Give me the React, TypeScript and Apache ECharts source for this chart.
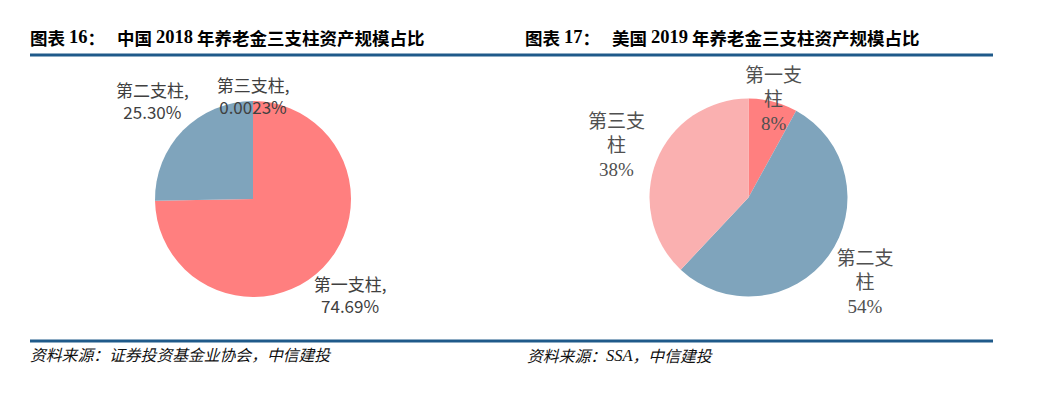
import React, { useEffect, useRef } from 'react';
import * as echarts from 'echarts';

// ---- data ----
const cnCategories = ['第一支柱', '第二支柱', '第三支柱'];
const cnValues = [74.69, 25.3, 0.0023];
const cnValueText = ['74.69%', '25.30%', '0.0023%'];

const usCategories = ['第一支柱', '第二支柱', '第三支柱'];
const usValues = [8, 54, 38];
const usValueText = ['8%', '54%', '38%'];

const cnColors = ['#FF7F7F', '#7FA4BC', '#F9B0B0'];
const usColors = ['#FF7F7F', '#7FA4BC', '#FAB0B0'];

// ---- layout (styling) ----
const CN_CENTER: [number, number] = [253, 199];
const CN_RADIUS = 98;
const CN_LABEL_R = [136, 141, 104];
const US_CENTER: [number, number] = [748.5, 197.5];
const US_RADIUS = 99;
const US_LABEL_R = [101, 144, 142];

const SANS = "'Noto Sans CJK SC', 'Noto Sans', sans-serif";
const SERIF = "'Liberation Serif', 'DejaVu Serif', 'Noto Sans CJK SC', serif";

function makeLayout(values: number[], center: [number, number], radii: number[]) {
  const total = values.reduce((a, b) => a + b, 0);
  return (p: any) => {
    const i = p.dataIndex;
    let before = 0;
    for (let j = 0; j < i; j++) before += values[j];
    const mid = ((before + values[i] / 2) / total) * Math.PI * 2;
    const r = radii[i];
    return {
      x: center[0] + r * Math.sin(mid),
      y: center[1] - r * Math.cos(mid),
      align: 'center',
      verticalAlign: 'middle',
    };
  };
}

export default function App() {
  const ref = useRef<HTMLDivElement>(null);
  useEffect(() => {
    if (!ref.current) return;
    const chart = echarts.init(ref.current, undefined, { renderer: 'svg' });
    const titleRich = {
      a: { fontFamily: SANS, fontWeight: 'bold', fontSize: 17.5, fill: '#000' },
      b: { fontFamily: SERIF, fontWeight: 'bold', fontSize: 18.5, fill: '#000' },
    };
    const srcRich = {
      a: { fontFamily: SANS, fontStyle: 'italic', fontSize: 15.8, fill: '#111' },
      b: { fontFamily: SERIF, fontStyle: 'italic', fontSize: 16.5, fill: '#111' },
    };
    chart.setOption({
      animation: false,
      backgroundColor: '#fff',
      graphic: [
        { type: 'text', left: 30, top: 28, style: { text: '{a|图表 }{b|16}{a|：}', rich: titleRich } },
        { type: 'text', left: 117, top: 28, style: { text: '{a|中国 }{b|2018}{a| 年养老金三支柱资产规模占比}', rich: titleRich } },
        { type: 'text', left: 525, top: 28, style: { text: '{a|图表 }{b|17}{a|：}', rich: titleRich } },
        { type: 'text', left: 612, top: 28, style: { text: '{a|美国 }{b|2019}{a| 年养老金三支柱资产规模占比}', rich: titleRich } },
        { type: 'line', shape: { x1: 30, y1: 55, x2: 993, y2: 55 }, style: { stroke: '#1F5A8A', lineWidth: 3 } },
        { type: 'line', shape: { x1: 30, y1: 341, x2: 993, y2: 341 }, style: { stroke: '#1F5A8A', lineWidth: 3 } },
        { type: 'text', left: 30, top: 347, style: { text: '{a|资料来源：证券投资基金业协会，中信建投}', rich: srcRich } },
        { type: 'text', left: 527, top: 347, style: { text: '{a|资料来源：}{b|SSA}{a|，中信建投}', rich: srcRich } },
      ],
      series: [
        {
          type: 'pie',
          silent: true,
          center: CN_CENTER,
          radius: CN_RADIUS,
          startAngle: 90,
          clockwise: true,
          avoidLabelOverlap: false,
          itemStyle: { borderWidth: 0 },
          label: {
            show: true,
            position: 'outside',
            fontFamily: SANS,
            fontSize: 17,
            lineHeight: 22,
            color: '#404040',
            formatter: (p: any) => `${p.name},\n${cnValueText[p.dataIndex]}`,
          },
          labelLine: { show: false },
          labelLayout: makeLayout(cnValues, CN_CENTER, CN_LABEL_R),
          data: cnCategories.map((n, i) => ({ name: n, value: cnValues[i], itemStyle: { color: cnColors[i] } })),
        },
        {
          type: 'pie',
          silent: true,
          center: US_CENTER,
          radius: US_RADIUS,
          startAngle: 90,
          clockwise: true,
          avoidLabelOverlap: false,
          itemStyle: { borderWidth: 0 },
          label: {
            show: true,
            position: 'outside',
            fontFamily: SERIF,
            fontSize: 19,
            lineHeight: 24,
            color: '#505050',
            formatter: (p: any) => `${p.name.slice(0, 3)}\n${p.name.slice(3)}\n${usValueText[p.dataIndex]}`,
          },
          labelLine: { show: false },
          labelLayout: makeLayout(usValues, US_CENTER, US_LABEL_R),
          data: usCategories.map((n, i) => ({ name: n, value: usValues[i], itemStyle: { color: usColors[i] } })),
        },
      ],
    });
    return () => chart.dispose();
  }, []);
  return (
    <div
      ref={ref}
      style={{ position: 'absolute', left: 0, top: 0, width: 1037, height: 398 }}
    />
  );
}
